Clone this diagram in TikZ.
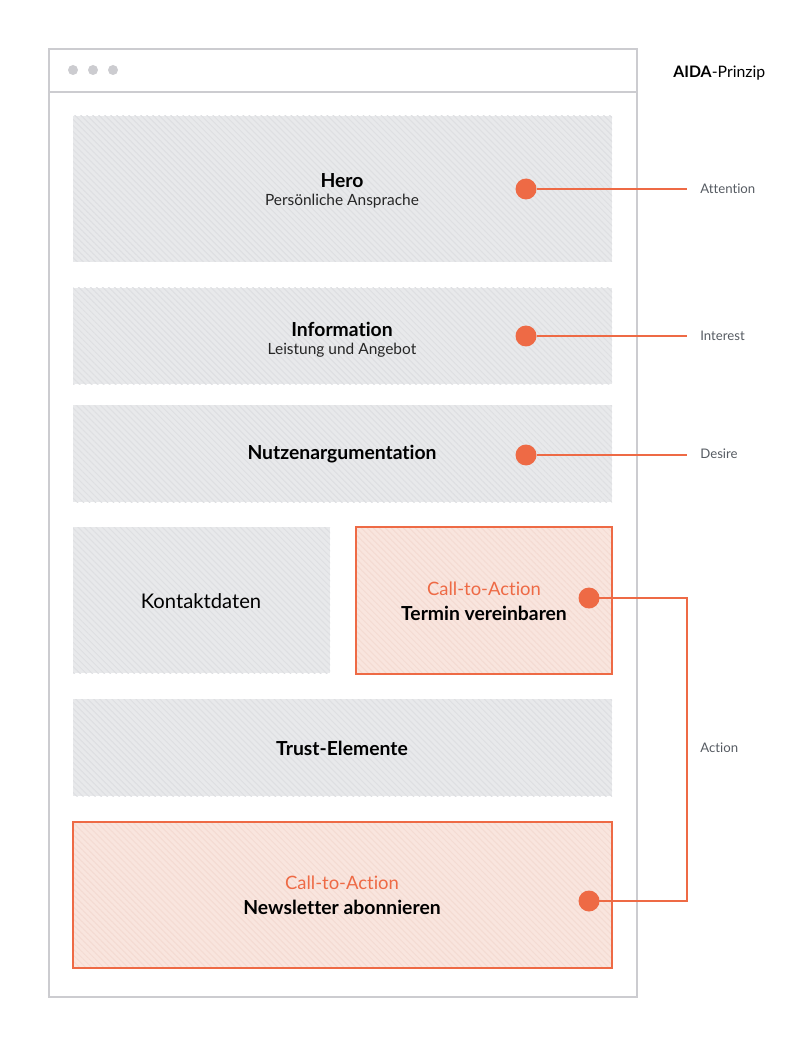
\documentclass[tikz,border=0pt]{standalone}
\usepackage{fontspec}
\setmainfont{Lato}[Ligatures=NoCommon]
\usepackage{xcolor}
\usetikzlibrary{patterns.meta}

\definecolor{aidaorange}{HTML}{EE6A45}
\definecolor{ctafill}{HTML}{F9E5DE}
\definecolor{ctahatch}{HTML}{F4DBD2}
\definecolor{blockfill}{HTML}{E8E9EB}
\definecolor{blockhatch}{HTML}{DEDFE2}
\definecolor{framegray}{HTML}{CCCCD0}
\definecolor{labelgray}{HTML}{565B62}

\tikzset{
  block/.style={preaction={fill=blockfill},
    pattern={Lines[angle=-45,distance=0.85mm,line width=0.2mm]},
    pattern color=blockhatch},
  ctablock/.style={preaction={fill=ctafill},
    pattern={Lines[angle=-45,distance=0.85mm,line width=0.2mm]},
    pattern color=ctahatch, draw=aidaorange, line width=0.4mm},
  title/.style={font=\fontsize{11}{13}\selectfont\bfseries, text=black},
  subtitle/.style={font=\fontsize{8.8}{10}\selectfont, text=black!85},
  ctatitle/.style={font=\fontsize{10.5}{12}\selectfont, text=aidaorange},
  marker/.style={circle, fill=aidaorange, inner sep=0pt, minimum size=4.2mm},
  phase/.style={font=\fontsize{7.5}{9}\selectfont, text=labelgray, anchor=west, inner sep=0pt},
  link/.style={aidaorange, line width=0.3mm}
}

\begin{document}
\begin{tikzpicture}[x=0.02cm, y=-0.02cm]
\useasboundingbox (0,0) rectangle (800,1050);

% browser window
\draw[framegray, line width=0.4mm] (49,49) rectangle (637,997);
\draw[framegray, line width=0.4mm] (49,92) -- (637,92);
\foreach \x in {73,93,113}{
    \fill[framegray] (\x,70) circle (5);
}
\node[anchor=west, inner sep=0pt, font=\fontsize{9}{11}\selectfont] (aida) at (673,73)
  {\textbf{AIDA}-Prinzip};

% blocks
\path[block] (73,116) rectangle (612,262);
\path[block] (73,288) rectangle (612,384);
\path[block] (73,405) rectangle (612,502);
\path[block] (73,527) rectangle (330,673);
\path[ctablock] (356,527) rectangle (612,674);
\path[block] (73,699) rectangle (612,796);
\path[ctablock] (73,822) rectangle (612,968);

% texts
\node[title] (hero) at (342,181) {Hero};
\node[subtitle] (herosub) at (342,201) {Persönliche Ansprache};
\node[title] (info) at (342,329) {Information};
\node[subtitle] (infosub) at (342,350) {Leistung und Angebot};
\node[title] (nutzen) at (342,454) {Nutzenargumentation};
\node[font=\fontsize{11.5}{13}\selectfont] (kontakt) at (201,601) {Kontaktdaten};
\node[ctatitle] (cta1) at (484,589) {Call-to-Action};
\node[title] (termin) at (484,613) {Termin vereinbaren};
\node[title] (trust) at (342,748) {Trust-Elemente};
\node[ctatitle] (cta2) at (342,883) {Call-to-Action};
\node[title] (newsletter) at (342,907) {Newsletter abonnieren};

% markers and phases
\node[marker] (mA) at (526,189) {};
\node[marker] (mI) at (526,336) {};
\node[marker] (mD) at (526,455) {};
\node[marker] (mT) at (589,598) {};
\node[marker] (mN) at (589,901) {};

\node[phase] (attention) at (700,189) {Attention};
\node[phase] (interest) at (700,336) {Interest};
\node[phase] (desire) at (700,454) {Desire};
\node[phase] (action) at (700,748) {Action};

\coordinate (eA) at (687,189);
\coordinate (eI) at (687,336);
\coordinate (eD) at (687,455);
\draw[link] (mA) -- (eA);
\draw[link] (mI) -- (eI);
\draw[link] (mD) -- (eD);
\draw[link] (mT.center) -- (687,598) -- (687,901) -- (mN.center);
\end{tikzpicture}
\end{document}
